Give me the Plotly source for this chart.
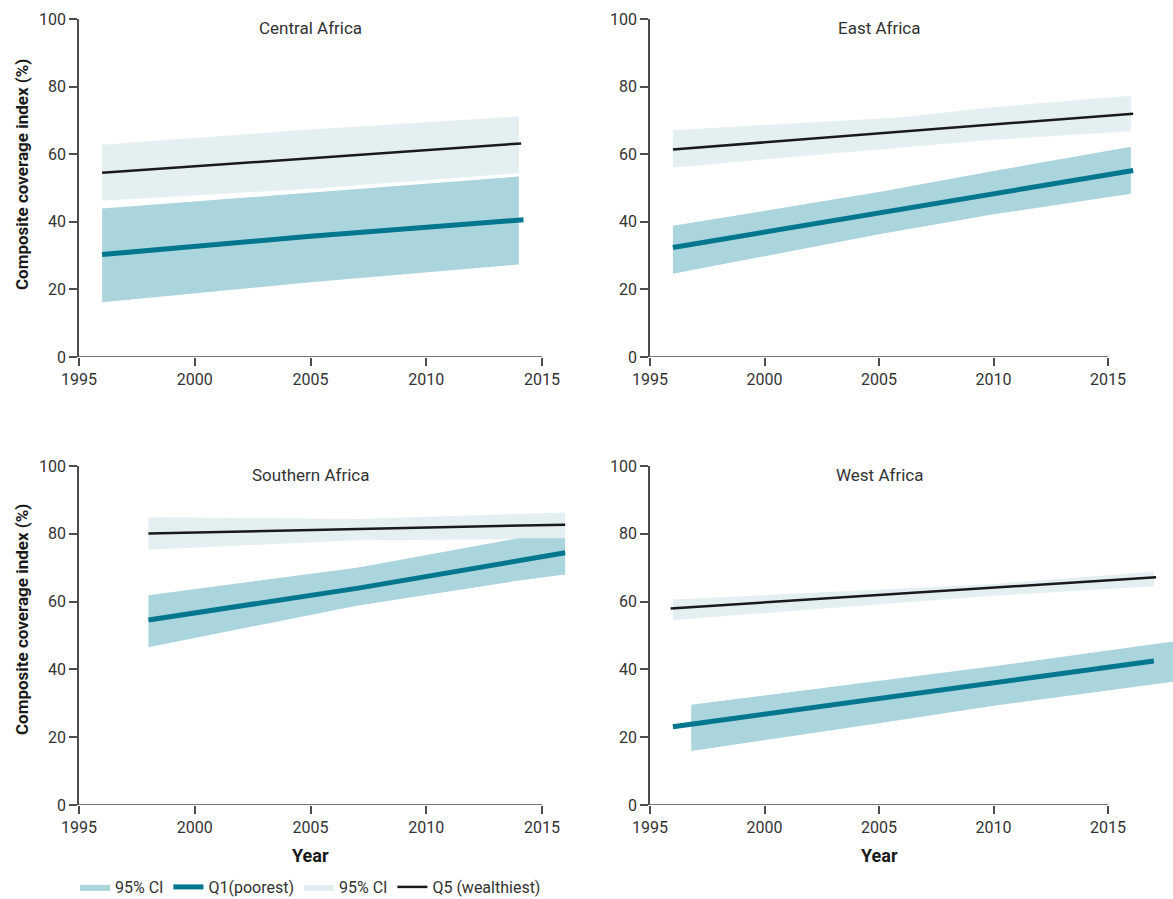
import plotly.graph_objects as go

# ---------------- data ----------------
regions = ["Central Africa", "East Africa", "Southern Africa", "West Africa"]

central_q1_years = [1996, 2005, 2014.2]
central_q1 = [30.3, 35.7, 40.6]
central_q1_ci_years = [1996, 2005, 2014]
central_q1_ci_lower = [16.2, 22.1, 27.4]
central_q1_ci_upper = [43.9, 48.6, 53.4]
central_q5_years = [1996, 2005, 2014.1]
central_q5 = [54.5, 58.8, 63.2]
central_q5_ci_years = [1996, 2005, 2014]
central_q5_ci_lower = [46.2, 49.8, 54.4]
central_q5_ci_upper = [62.8, 67.3, 71.2]

east_q1_years = [1996, 2005, 2010, 2016.1]
east_q1 = [32.4, 42.7, 48.4, 55.2]
east_q1_ci_years = [1996, 2005, 2010, 2016]
east_q1_ci_lower = [24.6, 36.3, 42.2, 48.3]
east_q1_ci_upper = [38.8, 48.8, 55.0, 62.2]
east_q5_years = [1996, 2005, 2016.1]
east_q5 = [61.4, 66.2, 72.0]
east_q5_ci_years = [1996, 2006, 2010, 2016]
east_q5_ci_lower = [56.1, 62.0, 64.3, 66.8]
east_q5_ci_upper = [67.1, 70.9, 73.9, 77.3]

southern_q1_years = [1998, 2007, 2016]
southern_q1 = [54.6, 63.9, 74.4]
southern_q1_ci_years = [1998, 2007, 2014, 2016]
southern_q1_ci_lower = [46.5, 58.8, 66.2, 68.0]
southern_q1_ci_upper = [61.9, 70.0, 78.7, 78.7]
southern_q5_years = [1998, 2016]
southern_q5 = [80.1, 82.7]
southern_q5_ci_years = [1998, 2007, 2016]
southern_q5_ci_lower = [75.3, 78.1, 78.5]
southern_q5_ci_upper = [84.9, 84.4, 86.3]

west_q1_years = [1996, 2005, 2017]
west_q1 = [23.1, 31.5, 42.5]
west_q1_ci_years = [1996.8, 2005, 2010, 2018]
west_q1_ci_lower = [15.9, 24.1, 29.3, 36.5]
west_q1_ci_upper = [29.6, 36.7, 40.9, 48.4]
west_q5_years = [1995.9, 2017.1]
west_q5 = [58.0, 67.2]
west_q5_ci_years = [1996, 2010, 2017]
west_q5_ci_lower = [54.6, 61.7, 64.5]
west_q5_ci_upper = [60.6, 65.2, 68.8]

x_tick_vals = [1995, 2000, 2005, 2010, 2015]
y_tick_vals = [0, 20, 40, 60, 80, 100]

series_names = ["95% CI", "Q1(poorest)", "95% CI", "Q5 (wealthiest)"]

# ---------------- styling ----------------
Q1_COLOR = "#00778f"
Q1_CI_COLOR = "#abd5dc"
Q5_COLOR = "#1a1a1a"
Q5_CI_COLOR = "#e3eff1"
AXIS_COLOR = "#4d4d4d"
TEXT_COLOR = "#333333"
FONT = "Roboto, Liberation Sans, sans-serif"

panels = [
    dict(q1y=central_q1_years, q1=central_q1, q1cy=central_q1_ci_years, q1lo=central_q1_ci_lower, q1hi=central_q1_ci_upper,
         q5y=central_q5_years, q5=central_q5, q5cy=central_q5_ci_years, q5lo=central_q5_ci_lower, q5hi=central_q5_ci_upper),
    dict(q1y=east_q1_years, q1=east_q1, q1cy=east_q1_ci_years, q1lo=east_q1_ci_lower, q1hi=east_q1_ci_upper,
         q5y=east_q5_years, q5=east_q5, q5cy=east_q5_ci_years, q5lo=east_q5_ci_lower, q5hi=east_q5_ci_upper),
    dict(q1y=southern_q1_years, q1=southern_q1, q1cy=southern_q1_ci_years, q1lo=southern_q1_ci_lower, q1hi=southern_q1_ci_upper,
         q5y=southern_q5_years, q5=southern_q5, q5cy=southern_q5_ci_years, q5lo=southern_q5_ci_lower, q5hi=southern_q5_ci_upper),
    dict(q1y=west_q1_years, q1=west_q1, q1cy=west_q1_ci_years, q1lo=west_q1_ci_lower, q1hi=west_q1_ci_upper,
         q5y=west_q5_years, q5=west_q5, q5cy=west_q5_ci_years, q5lo=west_q5_ci_lower, q5hi=west_q5_ci_upper),
]

W, H = 1173, 899
# pixel geometry of the axes
x_dom_px = [(79, 575), (650, 1173), (79, 575), (650, 1173)]
x_px_per_year = [23.15, 22.9, 23.15, 22.9]
y_dom_px = [(19, 357), (19, 357), (466, 805), (466, 805)]

fig = go.Figure()

for i, p in enumerate(panels):
    ax = "" if i == 0 else str(i + 1)
    xa, ya = "x" + ax, "y" + ax
    first = i == 0
    # Q5 band
    fig.add_trace(go.Scatter(
        x=p["q5cy"] + p["q5cy"][::-1], y=p["q5hi"] + p["q5lo"][::-1],
        fill="toself", fillcolor=Q5_CI_COLOR, line=dict(width=0), mode="lines",
        name=series_names[2], legendrank=3, showlegend=first, xaxis=xa, yaxis=ya, hoverinfo="skip"))
    # Q1 band
    fig.add_trace(go.Scatter(
        x=p["q1cy"] + p["q1cy"][::-1], y=p["q1hi"] + p["q1lo"][::-1],
        fill="toself", fillcolor=Q1_CI_COLOR, line=dict(width=0), mode="lines",
        name=series_names[0], legendrank=1, showlegend=first, xaxis=xa, yaxis=ya, hoverinfo="skip"))
    # Q5 line
    fig.add_trace(go.Scatter(
        x=p["q5y"], y=p["q5"], mode="lines", line=dict(color=Q5_COLOR, width=2.5),
        name=series_names[3], legendrank=4, showlegend=first, xaxis=xa, yaxis=ya))
    # Q1 line
    fig.add_trace(go.Scatter(
        x=p["q1y"], y=p["q1"], mode="lines", line=dict(color=Q1_COLOR, width=5),
        name=series_names[1], legendrank=2, showlegend=first, xaxis=xa, yaxis=ya))

layout = dict(
    width=W, height=H,
    margin=dict(l=0, r=0, t=0, b=0, autoexpand=False),
    paper_bgcolor="white", plot_bgcolor="white",
    font=dict(family=FONT, color=TEXT_COLOR, size=16),
    showlegend=True,
    legend=dict(orientation="h", x=75 / W, y=1 - 887 / H, xanchor="left", yanchor="middle",
                font=dict(size=16, color=TEXT_COLOR, family=FONT), itemwidth=30, traceorder="normal",
                bgcolor="rgba(0,0,0,0)"),
)

shapes = []
annotations = []
for i in range(4):
    ax = "" if i == 0 else str(i + 1)
    x0p, x1p = x_dom_px[i]
    y0p, y1p = y_dom_px[i]
    rng_end = 1995 + (x1p - x0p) / x_px_per_year[i]
    layout["xaxis" + ax] = dict(
        domain=[x0p / W, min(x1p / W, 1.0)], range=[1995, rng_end], anchor="y" + ax,
        showline=False, showgrid=False, zeroline=False, automargin=False,
        tickmode="array", tickvals=x_tick_vals, ticks="outside", ticklen=8, tickwidth=1.5,
        tickcolor=AXIS_COLOR, tickfont=dict(size=16, color=TEXT_COLOR, family=FONT))
    layout["yaxis" + ax] = dict(
        domain=[1 - y1p / H, 1 - y0p / H], range=[0, 100], anchor="x" + ax,
        showline=True, linecolor=AXIS_COLOR, linewidth=1.5, showgrid=False, zeroline=False,
        automargin=False,
        tickmode="array", tickvals=y_tick_vals, ticks="outside", ticklen=8, tickwidth=1.5,
        tickcolor=AXIS_COLOR, tickfont=dict(size=16, color=TEXT_COLOR, family=FONT))
    shapes.append(dict(type="line", xref="x" + ax, yref="y" + ax, x0=1995, x1=2015, y0=0, y1=0,
                       line=dict(color=AXIS_COLOR, width=1.5), layer="above"))
    annotations.append(dict(text=regions[i], xref="x" + ax, yref="y" + ax, x=2005, y=97.3,
                            showarrow=False, xanchor="center", yanchor="middle",
                            font=dict(size=17, color=TEXT_COLOR, family=FONT)))

# y-axis titles
for yc in (175, 620):
    annotations.append(dict(text="<b>Composite coverage index (%)</b>", xref="paper", yref="paper",
                            x=22 / W, y=1 - yc / H, textangle=-90, showarrow=False,
                            xanchor="center", yanchor="middle",
                            font=dict(size=17, color="#1a1a1a", family=FONT)))
# x-axis titles
for xa in ("x3", "x4"):
    annotations.append(dict(text="<b>Year</b>", xref=xa, yref="paper", x=2005, y=1 - 855 / H,
                            showarrow=False, xanchor="center", yanchor="middle",
                            font=dict(size=18, color="#1a1a1a", family=FONT)))

layout["shapes"] = shapes
layout["annotations"] = annotations
fig.update_layout(**layout)

fig.write_html("out.html")
